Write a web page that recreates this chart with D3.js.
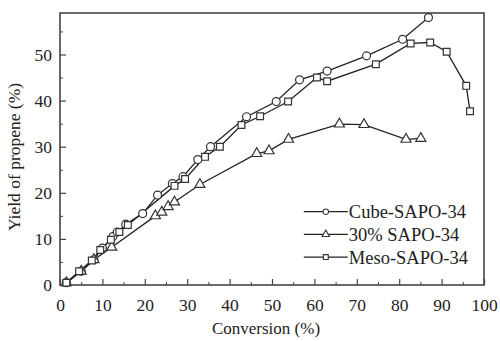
<!DOCTYPE html>
<html>
<head>
<meta charset="utf-8">
<script src="https://cdn.jsdelivr.net/npm/d3@7"></script>
<style>
  body { margin: 0; background: #fff; }
  svg text { font-family: "Liberation Serif", "DejaVu Serif", serif; fill: #222; }
</style>
</head>
<body>
<div id="chart"></div>
<script>
// values: [conversion %, yield %]
const cubeSeries = [[1.5, 0.5], [5, 3], [8, 5.5], [10, 8], [12.5, 10.5], [13.5, 11.5], [15.5, 13.2],
  [19.5, 15.5], [23, 19.5], [26.5, 22], [29, 23.5], [32.5, 27.2], [35.5, 30], [44, 36.5],
  [51, 39.8], [56.5, 44.5], [63, 46.4], [72.3, 49.7], [80.8, 53.3], [86.9, 58]];
const pct30Series = [[1.5, 0.5], [5, 3], [8, 5.5], [12.2, 8.2], [22.5, 15], [24, 15.8], [25.5, 17],
  [27, 18], [33, 21.8], [46.4, 28.5], [49.3, 29.1], [53.9, 31.6], [65.9, 34.9], [71.7, 34.8],
  [81.6, 31.6], [85.1, 31.8]];
const mesoSeries = [[1.5, 0.5], [4.5, 3], [7.5, 5.3], [9.5, 7.6], [12, 9.8], [14, 11.5], [16, 13],
  [27, 21.5], [29.5, 23], [34.2, 27.8], [37.7, 30], [42.8, 34.7], [47.2, 36.6], [53.8, 39.8],
  [60.6, 45], [63, 44.2], [74.5, 47.9], [82.7, 52.4], [87.3, 52.6], [91.2, 50.6], [95.8, 43.2],
  [96.7, 37.7]];
const seriesNames = ['Cube-SAPO-34', '30% SAPO-34', 'Meso-SAPO-34'];
const seriesSymbols = ['circle', 'triangle', 'square'];
const xTicks = [0, 10, 20, 30, 40, 50, 60, 70, 80, 90, 100];
const yTicks = [0, 10, 20, 30, 40, 50];

const width = 500, height = 341;
const margin = {top: 13, right: 16, bottom: 56, left: 60};
const innerW = width - margin.left - margin.right;
const innerH = height - margin.top - margin.bottom;

const svg = d3.select('#chart').append('svg')
  .attr('width', width)
  .attr('height', height);

const g = svg.append('g')
  .attr('transform', `translate(${margin.left},${margin.top})`);

const x = d3.scaleLinear().domain([0, 100]).range([0, innerW]);
const y = d3.scaleLinear().domain([0, 59]).range([innerH, 0]);

// minor ticks every 5, major every 10, all pointing inward
const tickColor = '#444';
g.append('g')
  .attr('transform', `translate(0,${innerH})`)
  .call(d3.axisBottom(x).tickValues(d3.range(5, 100, 10)).tickSize(-3).tickFormat(''))
  .call(s => s.select('.domain').remove())
  .call(s => s.selectAll('line').attr('stroke', tickColor));
g.append('g')
  .attr('transform', `translate(0,${innerH})`)
  .call(d3.axisBottom(x).tickValues(xTicks).tickSize(-6).tickPadding(14).tickFormat(d3.format('d')))
  .call(s => s.select('.domain').remove())
  .call(s => s.selectAll('line').attr('stroke', tickColor).attr('stroke-width', 1.2))
  .call(s => s.selectAll('text').attr('font-size', 17.5).attr('fill', '#222')
    .style('font-family', '"Liberation Serif", serif'));

g.append('g')
  .call(d3.axisLeft(y).tickValues(d3.range(5, 59, 10)).tickSize(-3).tickFormat(''))
  .call(s => s.select('.domain').remove())
  .call(s => s.selectAll('line').attr('stroke', tickColor));
g.append('g')
  .call(d3.axisLeft(y).tickValues(yTicks).tickSize(-6).tickPadding(8).tickFormat(d3.format('d')))
  .call(s => s.select('.domain').remove())
  .call(s => s.selectAll('line').attr('stroke', tickColor).attr('stroke-width', 1.2))
  .call(s => s.selectAll('text').attr('font-size', 17.5).attr('fill', '#222')
    .style('font-family', '"Liberation Serif", serif'));

// frame
g.append('rect')
  .attr('width', innerW).attr('height', innerH)
  .attr('fill', 'none').attr('stroke', '#444').attr('stroke-width', 1.6);

const symbolOf = {
  circle: d3.symbol().type(d3.symbolCircle).size(50),
  triangle: d3.symbol().type(d3.symbolTriangle).size(44),
  square: d3.symbol().type(d3.symbolSquare).size(46)
};

const line = d3.line().x(d => x(d[0])).y(d => y(d[1]));
const allSeries = [cubeSeries, pct30Series, mesoSeries];

allSeries.forEach((data, i) => {
  g.append('path')
    .datum(data)
    .attr('fill', 'none')
    .attr('stroke', '#222')
    .attr('stroke-width', 1.3)
    .attr('d', line);
});

allSeries.forEach((data, i) => {
  g.selectAll('.pt' + i)
    .data(data)
    .enter().append('path')
    .attr('class', 'pt' + i)
    .attr('transform', d => `translate(${x(d[0])},${y(d[1])})`)
    .attr('d', symbolOf[seriesSymbols[i]]())
    .attr('fill', '#fff')
    .attr('stroke', '#333')
    .attr('stroke-width', 1.2);
});

// legend
const legend = g.append('g').attr('transform', `translate(${x(57.5)},${y(15.9)})`);
seriesNames.forEach((name, i) => {
  const row = legend.append('g').attr('transform', `translate(0,${i * 22.7})`);
  row.append('line').attr('x1', 0).attr('x2', 44)
    .attr('stroke', '#222').attr('stroke-width', 1.3);
  row.append('path')
    .attr('transform', 'translate(22,0)')
    .attr('d', d3.symbol().type(
      seriesSymbols[i] === 'circle' ? d3.symbolCircle :
      seriesSymbols[i] === 'triangle' ? d3.symbolTriangle : d3.symbolSquare).size(24)())
    .attr('fill', '#fff').attr('stroke', '#333').attr('stroke-width', 1.1);
  row.append('text')
    .attr('x', 45).attr('dy', '0.35em')
    .attr('font-size', 18.5)
    .text(name);
});

// axis titles
svg.append('text')
  .attr('x', margin.left + innerW / 2 - 6)
  .attr('y', 334)
  .attr('text-anchor', 'middle')
  .attr('font-size', 17)
  .text('Conversion (%)');

svg.append('text')
  .attr('transform', `translate(20,${margin.top + innerH / 2 + 8}) rotate(-90)`)
  .attr('text-anchor', 'middle')
  .attr('font-size', 17.5)
  .text('Yield of propene (%)');
</script>
</body>
</html>
